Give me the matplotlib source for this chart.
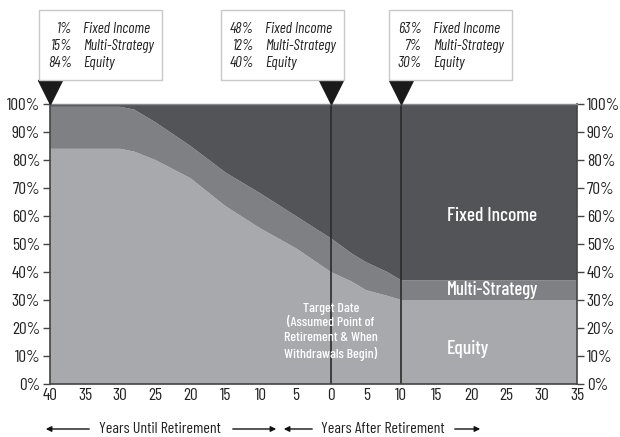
import numpy as np
import matplotlib
matplotlib.use('Agg')
import matplotlib.pyplot as plt
from matplotlib.patches import Rectangle, FancyArrowPatch
from matplotlib.transforms import offset_copy

# years relative to retirement (negative = before)
years = [-40, -30, -28, -25, -20, -15, -10, -5, 0, 3, 5, 8, 10, 35]
equity = [84, 84, 83, 80, 73.5, 63.5, 55.5, 48.5, 40, 36.5, 33.5, 31.5, 30, 30]
multi = [15, 15, 15, 13.5, 11.5, 12, 12.5, 11.5, 12, 10, 10, 8.5, 7, 7]
fixed = [1, 1, 2, 6.5, 15, 24.5, 32, 40, 48, 53.5, 56.5, 60, 63, 63]

xticks = list(range(-40, 36, 5))
yticks = list(range(0, 101, 10))

# glide path snapshots shown in the boxes
snap_years = [-40, 0, 10]
snap_fixed = ['1%', '48%', '63%']
snap_multi = ['15%', '12%', '7%']
snap_equity = ['84%', '40%', '30%']

FONT = ['Barlow Condensed', 'DejaVu Sans']
plt.rcParams['font.family'] = FONT

c_eq = '#a8a9ad'
c_ms = '#7f8084'
c_fi = '#535457'

fig = plt.figure(figsize=(6.2, 4.37), dpi=100)
ax = fig.add_axes([0.0806, 0.1213, 0.85, 0.6407])

ax.stackplot(years, equity, multi, fixed, colors=[c_eq, c_ms, c_fi], linewidth=0)
ax.set_xlim(-40, 35)
ax.set_ylim(0, 100)

for v in [0, 10]:
    ax.axvline(v, color='#2b2b2b', lw=1.2)

ax.set_xticks(xticks)
ax.set_xticklabels([str(abs(v)) for v in xticks], fontsize=12.5)
ax.set_yticks(yticks)
ax.set_yticklabels([f'{v}%' for v in yticks], fontsize=12.5)
ax.tick_params(axis='x', length=0, pad=3, colors='#222222')
ax.tick_params(axis='y', length=5, width=1, direction='out', colors='#444444',
               labelcolor='#222222', left=True, right=True, labelleft=True, labelright=True, pad=2)
for s in ['left', 'bottom', 'right']:
    ax.spines[s].set_color('#444444')
    ax.spines[s].set_linewidth(1.2)
ax.spines['top'].set_color('#8a8a8a')
ax.spines['top'].set_linewidth(1)

# triangles pointing at the snapshot years
tri_tr = offset_copy(ax.transData, fig=fig, y=12, units='dots')
ax.plot(snap_years, [100] * len(snap_years), linestyle='none', marker='v', markersize=17,
        color='#1a1a1a', transform=tri_tr, clip_on=False, zorder=10)

# annotation boxes (pixel coords)
W, H = 620, 437
box_left = [39, 221, 389]
for i, bl in enumerate(box_left):
    fig.patches.append(Rectangle((bl / W, 1 - 80 / H), 123 / W, 70 / H, transform=fig.transFigure,
                                 facecolor='white', edgecolor='#c8c8c8', lw=1))
    rows = [(snap_fixed[i], 'Fixed Income'), (snap_multi[i], 'Multi-Strategy'), (snap_equity[i], 'Equity')]
    for j, (p, lab) in enumerate(rows):
        yy = 1 - (29 + 17 * j) / H
        fig.text((bl + 33) / W, yy, p, ha='right', va='center', fontsize=11, style='italic', color='#222222')
        fig.text((bl + 44) / W, yy, lab, ha='left', va='center', fontsize=11, style='italic', color='#222222')

# labels inside the plot
ax.text(16.5, 60, 'Fixed Income', color='white', fontsize=14, ha='left', va='center', weight='medium')
ax.text(16.5, 33.5, 'Multi-Strategy', color='white', fontsize=13.5, ha='left', va='center', weight='medium')
ax.text(16.5, 12.5, 'Equity', color='white', fontsize=14, ha='left', va='center', weight='medium')
ax.text(0, 18.6, 'Target Date\n(Assumed Point of\nRetirement & When\nWithdrawals Begin)',
        color='white', fontsize=10, ha='center', va='center', linespacing=1.3, weight='medium')

# bottom axis captions with arrows
ya = 1 - 429 / H
fig.text(160 / W, ya, 'Years Until Retirement', ha='center', va='center', fontsize=11.5, color='#222222')
fig.text(383 / W, ya, 'Years After Retirement', ha='center', va='center', fontsize=11.5, color='#222222')
arrows = [(92, 43), (230, 279), (315, 281), (452, 483)]
for x0, x1 in arrows:
    fig.patches.append(FancyArrowPatch((x0 / W, ya), (x1 / W, ya), transform=fig.transFigure,
                                       arrowstyle='-|>', mutation_scale=8, color='#111111', lw=1))

fig.savefig('out.png', dpi=100)
